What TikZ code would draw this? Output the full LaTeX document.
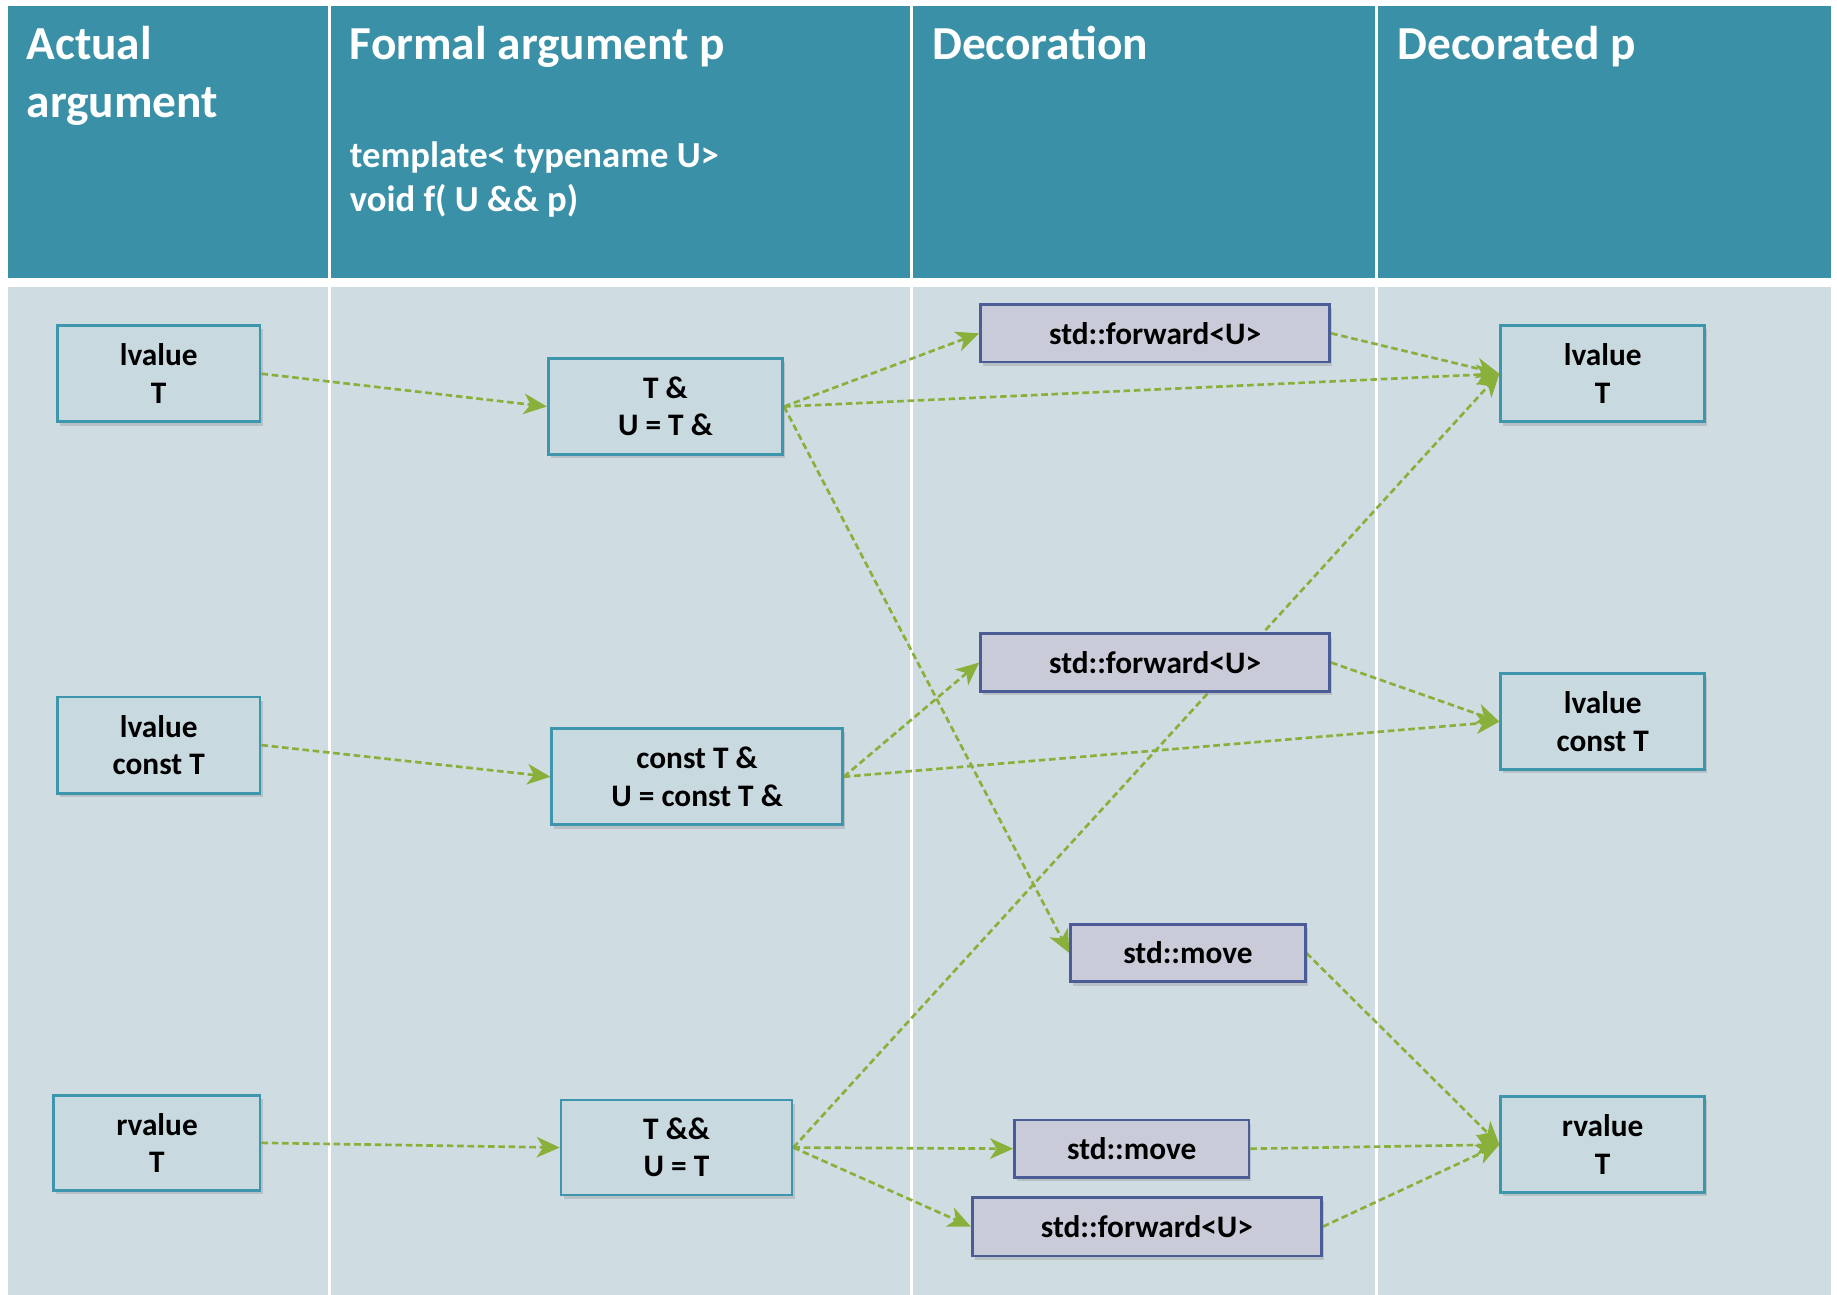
\documentclass[tikz,border=0pt]{standalone}
\usepackage{fontspec}
\setmainfont{Carlito}
\usetikzlibrary{arrows.meta,shadows}
\definecolor{headteal}{RGB}{58,145,167}
\definecolor{bodygrey}{RGB}{207,221,227}
\definecolor{valfill}{RGB}{200,217,224}
\definecolor{valedge}{RGB}{62,150,172}
\definecolor{decfill}{RGB}{201,204,216}
\definecolor{decedge}{RGB}{76,92,150}
\definecolor{flowgreen}{RGB}{137,176,58}
\pgfdeclarelayer{bg}
\pgfdeclarelayer{edges}
\pgfsetlayers{bg,edges,main}
\begin{document}
\begin{tikzpicture}[x=0.01cm,y=-0.01cm,
			val node/.style={rectangle,draw=valedge,fill=valfill,line width=0.65pt,align=center,inner sep=0pt,
				font=\bfseries\fontsize{7.6}{9.1}\selectfont,minimum height=0.82cm,
				drop shadow={opacity=0.3,shadow xshift=0.6pt,shadow yshift=-0.9pt}},
			dec node/.style={val node,draw=decedge,fill=decfill,minimum height=0.49cm},
			head text/.style={anchor=north west,inner sep=0pt,align=left,text=white,font=\bfseries\fontsize{11.5}{13.9}\selectfont},
			flow/.style={draw=flowgreen,line width=0.65pt,dash pattern=on 1.6pt off 0.9pt,
				-{Stealth[length=5.6pt,width=5pt,inset=1.6pt,fill=flowgreen]}}]
			
			\useasboundingbox (0,0) rectangle (1568,1105);
			\begin{pgfonlayer}{bg}
			\fill[headteal] (7,5) rectangle (1563,237);
			\fill[bodygrey] (7,245) rectangle (1563,1105);
			\foreach \xcol in {281,778,1175}
				\draw[white,line width=0.7pt] (\xcol,5) -- (\xcol,1105);
			\end{pgfonlayer}
			
			\node[head text] (HActual) at (22,22) {Actual\\argument};
			\node[head text] (HFormal) at (298,22) {Formal argument p};
			\node[head text,font=\bfseries\fontsize{8.9}{10.8}\selectfont] (HTemplate) at (298,120) {template< typename U>\\void f( U \&\& p)};
			\node[head text] (HDecor) at (795,22) {Decoration};
			\node[head text] (HDecorated) at (1192,22) {Decorated p};
			
			% actual arguments
			\node[val node,minimum width=1.73cm] (A1) at (135.5,319) {lvalue\\T};
			\node[val node,minimum width=1.73cm] (A2) at (135.5,636) {lvalue\\const T};
			\node[val node,minimum width=1.76cm,minimum height=0.81cm] (A3) at (134,975.5) {rvalue\\T};
			
			% formal arguments
			\node[val node,minimum width=2.00cm] (F1) at (568,347) {T \&\\U = T \&};
			\node[val node,minimum width=2.48cm] (F2) at (595,663) {const T \&\\U = const T \&};
			\node[val node,minimum width=1.97cm,minimum height=0.81cm] (F3) at (577.5,979.5) {T \&\&\\U = T};
			
			% decorations
			\node[dec node,minimum width=2.98cm] (D1) at (986,284.5) {std::forward<U>};
			\node[dec node,minimum width=2.98cm] (D2) at (986,565.5) {std::forward<U>};
			\node[dec node,minimum width=2.00cm] (D3) at (1014,813.5) {std::move};
			\node[dec node,minimum width=2.00cm] (D4) at (966,980.5) {std::move};
			\node[dec node,minimum width=2.98cm,minimum height=0.50cm] (D5) at (979,1047) {std::forward<U>};
			
			% decorated p
			\node[val node,minimum width=1.74cm] (R1) at (1368,319) {lvalue\\T};
			\node[val node,minimum width=1.74cm] (R2) at (1368,616) {lvalue\\const T};
			\node[val node,minimum width=1.74cm] (R3) at (1368,977) {rvalue\\T};
			
			\begin{pgfonlayer}{edges}
			\path[every edge/.append style={flow}]
			(A1.east) edge (F1.west)
			(A2.east) edge (F2.west)
			(A3.east) edge (F3.west)
			(F1.east) edge (D1.west)
			(F1.east) edge (R1.west)
			(F1.east) edge (D3.west)
			(F2.east) edge (D2.west)
			(F2.east) edge (R2.west)
			(F3.east) edge (R1.west)
			(F3.east) edge (D4.west)
			(F3.east) edge (D5.west)
			(D1.east) edge (R1.west)
			(D2.east) edge (R2.west)
			(D3.east) edge (R3.west)
			(D4.east) edge (R3.west)
			(D5.east) edge (R3.west);
			\end{pgfonlayer}
			\end{tikzpicture}
\end{document}
